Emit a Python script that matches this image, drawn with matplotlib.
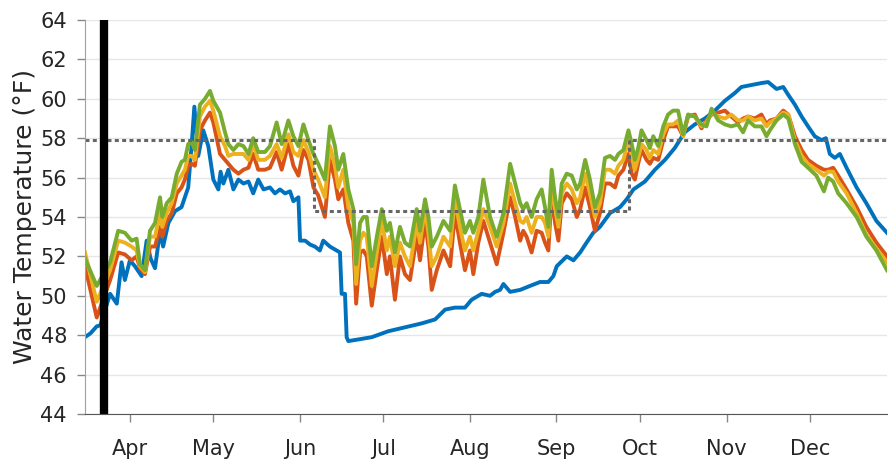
import matplotlib
matplotlib.use('Agg')
import matplotlib.pyplot as plt

# day 0 = Mar 16
month_ticks = [16, 46, 77, 107, 138, 169, 199, 230, 260]
month_labels = ['Apr', 'May', 'Jun', 'Jul', 'Aug', 'Sep', 'Oct', 'Nov', 'Dec']

days_blue = [0, 2.0, 4.2, 5.5, 9.0, 11.4, 13.1, 14.3, 16.1, 17.9,
             20.3, 22.1, 23.5, 25.1, 26.9, 28.0, 29.9, 32.3, 34.6, 35.8,
             37.0, 38.2, 39.2, 40.6, 42.4, 44.2, 46.0, 47.8, 48.6, 49.6,
             51.4, 53.2, 55.0, 56.8, 58.6, 60.3, 62.1, 64.0, 66.3, 68.1,
             69.9, 71.7, 73.5, 74.7, 76.5, 77.1, 78.9, 80.7, 82.4, 84.2,
             85.4, 87.8, 90.2, 91.4, 92.0, 93.2, 93.8, 94.4, 98.6, 102.8,
             108.7, 114.7, 120.7, 125.5, 129.1, 132.6, 136.2, 138.6, 142.2, 145.2,
             147.0, 148.8, 150.0, 152.4, 156.0, 159.5, 163.1, 166.1, 167.9, 169.1,
             172.7, 175.1, 177.5, 179.8, 182.2, 184.6, 188.2, 191.8, 194.2, 196.6,
             200.7, 204.3, 207.9, 211.4, 215.0, 218.6, 222.2, 225.8, 229.4, 233.0,
             235.3, 238.9, 242.5, 244.9, 247.9, 250.3, 252.1, 254.5, 256.9, 259.2,
             261.6, 264.0, 265.6, 267.0, 268.8, 270.6, 273.0, 276.6, 280.1, 283.7, 287.5]
temp_blue = [47.9, 48.1, 48.45, 48.5, 50.1, 49.6, 51.7, 50.8, 51.8, 51.5,
             51.0, 52.8, 51.9, 51.4, 53.3, 52.5, 53.7, 54.3, 54.5, 55.0,
             55.5, 57.6, 59.6, 57.1, 58.4, 57.6, 55.9, 55.4, 56.3, 55.7,
             56.4, 55.4, 55.9, 55.7, 55.8, 55.2, 55.9, 55.4, 55.5, 55.2,
             55.4, 55.2, 55.3, 54.8, 55.0, 52.8, 52.8, 52.6, 52.5, 52.3,
             52.8, 52.5, 52.3, 52.2, 50.1, 50.1, 47.9, 47.7, 47.8, 47.9,
             48.2, 48.4, 48.6, 48.8, 49.3, 49.4, 49.4, 49.8, 50.1, 50.0,
             50.2, 50.3, 50.6, 50.2, 50.3, 50.5, 50.7, 50.7, 51.0, 51.5,
             52.0, 51.8, 52.2, 52.7, 53.2, 53.5, 54.2, 54.5, 54.9, 55.4,
             55.8, 56.4, 56.9, 57.5, 58.3, 58.7, 59.0, 59.4, 59.9, 60.3,
             60.6, 60.7, 60.8, 60.85, 60.5, 60.6, 60.2, 59.7, 59.1, 58.6,
             58.1, 57.9, 58.0, 57.2, 57.0, 57.2, 56.5, 55.5, 54.7, 53.8, 53.2]

days_sites = [0, 4.2, 9.0, 11.9, 14.3, 16.7, 18.5, 19.7, 21.5, 23.3, 25.1, 26.9, 27.7,
              29.3, 31.1, 32.9, 34.6, 35.8, 37.0, 38.2, 39.4, 41.2, 43.0, 44.8, 46.0,
              48.4, 50.2, 51.4, 53.2, 55.0, 56.8, 58.6, 60.3, 62.1, 64.5, 66.3, 68.7, 70.5,
              72.9, 74.7, 76.5, 78.3, 80.1, 81.9, 83.6, 86.0, 87.8, 89.6, 90.8, 92.6, 94.4, 96.2,
              97.2, 98.6, 99.8, 101.0, 102.8, 104.6, 106.4, 108.2, 109.3, 111.1, 112.9, 114.7,
              116.5, 118.9, 120.1, 121.9, 123.1, 124.3, 126.1, 128.5, 130.9, 132.6, 134.4,
              136.2, 138.0, 139.2, 141.0, 142.8,
              145.2, 147.6, 150.0, 152.4, 154.2, 156.0, 157.1, 158.3, 160.1, 161.9, 163.7,
              164.9, 166.1, 167.3, 168.5, 169.7, 170.9, 172.7, 174.5, 176.3, 177.5, 179.3,
              181.0, 182.8, 184.6, 186.4, 188.2, 190.0, 191.2, 193.0, 194.8, 196.0,
              197.1, 198.3, 199.5, 201.3, 202.5, 203.7, 205.5, 207.3, 209.0, 210.8, 212.6,
              214.4, 216.2, 218.6, 221.0, 222.8, 224.6, 227.0, 229.4, 231.7, 234.1, 235.9,
              237.7, 240.1, 242.5, 244.3,
              245.5, 247.9, 250.3, 252.1, 254.5, 256.9, 259.2, 262.2, 264.9, 266.4, 268.2,
              270.0, 273.0, 276.6, 280.1, 283.7, 287.5]

temp_red = [51.5, 48.9, 50.8, 52.2, 52.1, 51.8, 52.0, 51.4, 51.1, 52.5, 52.5, 53.5, 53.0,
            53.8, 54.2, 55.2, 55.5, 55.9, 56.6, 56.7, 56.6, 58.4, 58.9, 59.3, 58.8,
            57.2, 56.9, 56.7, 56.4, 56.2, 56.4, 56.5, 57.2, 56.4, 56.4, 56.5, 57.3, 56.4,
            57.7, 56.6, 56.1, 57.4, 56.9, 55.5, 55.1, 54.0, 56.9, 55.9, 54.9, 55.4, 53.7, 52.8,
            49.6, 52.2, 52.3, 52.0, 49.5, 51.3, 53.0, 51.1, 52.0, 49.8, 52.0, 51.1,
            50.8, 53.0, 51.8, 53.8, 52.5, 50.3, 51.3, 52.3, 51.5, 54.2, 52.7,
            51.3, 52.3, 51.1, 52.7, 53.8,
            52.7, 51.6, 53.2, 55.0, 54.0, 52.8, 53.3, 53.0, 52.2, 53.3, 53.2,
            52.7, 52.3, 55.2, 53.7, 52.8, 54.7, 55.2, 54.9, 54.0, 54.4, 55.5,
            54.5, 53.3, 54.2, 55.7, 55.7, 55.5, 56.1, 56.4, 57.2, 56.2,
            55.9, 56.7, 57.4, 56.9, 56.7, 57.0, 56.9, 57.9, 58.6, 58.6, 58.6,
            58.1, 59.1, 59.2, 58.5, 58.9, 59.2, 59.3, 59.4, 59.1, 58.8, 59.0,
            59.1, 59.0, 59.2, 58.7,
            58.9, 59.0, 59.4, 59.2, 58.1, 57.4, 56.9, 56.6, 56.4, 56.4, 56.5,
            56.1, 55.4, 54.5, 53.5, 52.7, 52.0]

temp_yellow = [52.2, 49.7, 51.3, 52.8, 52.7, 52.5, 52.3, 51.5, 51.2, 53.0, 53.0, 54.2, 53.5,
               54.2, 54.7, 55.7, 56.1, 56.4, 57.1, 57.1, 56.9, 59.1, 59.6, 59.9, 59.4,
               58.1, 57.6, 57.1, 57.2, 57.2, 57.2, 56.9, 57.7, 56.9, 56.9, 57.1, 57.7, 57.0,
               58.2, 57.3, 57.1, 57.9, 57.3, 56.4, 55.9, 55.0, 57.6, 56.6, 55.5, 56.4, 54.5, 53.7,
               50.6, 52.8, 53.2, 53.0, 50.5, 52.2, 53.8, 52.3, 53.0, 51.5, 52.7, 52.0,
               51.5, 53.7, 52.7, 54.4, 53.2, 51.5, 52.0, 53.0, 52.5, 54.9, 53.5,
               52.3, 53.0, 52.3, 53.3, 54.4,
               53.5, 52.5, 53.7, 55.7, 54.7, 53.8, 53.7, 54.0, 53.2, 54.0, 54.0,
               53.7, 53.0, 55.7, 54.4, 53.5, 55.2, 55.7, 55.4, 54.7, 55.0, 56.2,
               55.2, 54.0, 54.7, 56.4, 56.4, 56.2, 56.6, 56.9, 57.9, 57.1,
               56.4, 57.0, 57.7, 57.4, 57.0, 57.4, 57.2, 58.2, 58.7, 58.7, 58.9,
               58.1, 59.2, 59.1, 58.6, 58.8, 59.3, 59.1, 59.0, 59.2, 58.9, 58.9,
               59.1, 58.9, 59.0, 58.6,
               58.8, 59.0, 59.3, 59.2, 57.9, 57.1, 56.7, 56.4, 56.1, 56.3, 56.3,
               55.8, 55.2, 54.2, 53.1, 52.4, 51.7]

temp_green = [51.9, 50.5, 51.7, 53.3, 53.2, 52.8, 52.9, 51.6, 51.3, 53.3, 53.7, 55.0, 54.0,
              54.7, 55.0, 56.2, 56.8, 56.9, 57.7, 57.8, 57.4, 59.7, 60.0, 60.4, 59.9,
              59.3, 58.3, 57.7, 57.4, 57.7, 57.6, 57.2, 58.0, 57.3, 57.3, 57.6, 58.8, 57.7,
              58.9, 58.1, 57.6, 58.7, 57.9, 57.2, 56.7, 55.9, 58.6, 57.6, 56.4, 57.2, 55.4, 54.4,
              51.6, 53.7, 54.0, 54.0, 51.5, 53.0, 54.4, 53.3, 53.7, 52.2, 53.5, 52.7,
              52.5, 54.4, 53.3, 54.9, 54.0, 52.5, 53.0, 53.8, 53.3, 55.6, 54.4,
              53.2, 53.8, 53.2, 54.0, 55.9,
              54.0, 53.0, 54.2, 56.7, 55.7, 54.7, 54.4, 54.7, 54.0, 54.9, 55.4,
              54.5, 53.5, 56.4, 55.0, 54.0, 55.7, 56.2, 56.1, 55.4, 55.7, 56.9,
              55.9, 54.5, 55.2, 57.0, 57.1, 56.9, 57.2, 57.4, 58.4, 57.7,
              56.9, 57.5, 58.4, 57.9, 57.5, 58.1, 57.6, 58.6, 59.2, 59.4, 59.4,
              58.2, 59.2, 59.1, 58.7, 58.6, 59.5, 58.9, 58.7, 58.6, 58.7, 58.3,
              58.9, 58.6, 58.6, 58.1,
              58.4, 58.9, 59.2, 59.0, 57.7, 56.8, 56.5, 56.1, 55.3, 56.0, 55.8,
              55.2, 54.7, 54.0, 53.0, 52.3, 51.3]

# criterion steps (deg F)
thresh_days = [0, 82, 195, 287.5]
thresh_temp = [57.9, 54.3, 57.9, 57.9]

bar_day = 6.8

text_color = '#262626'
plt.rcParams['font.family'] = ['DejaVu Sans']

fig = plt.figure(figsize=(8.88, 4.61), dpi=100)
ax = fig.add_axes([85 / 888, 1 - 414 / 461, 802 / 888, 394 / 461])

lw = 2.8
ax.plot(days_blue, temp_blue, color='#0072BD', lw=lw)
ax.plot(days_sites, temp_red, color='#D95319', lw=lw)
ax.plot(days_sites, temp_yellow, color='#EDB120', lw=lw)
ax.plot(days_sites, temp_green, color='#77AC30', lw=lw)
ax.plot(thresh_days, thresh_temp, drawstyle='steps-post', color='#666666',
        lw=2.2, linestyle=(0, (1.3, 1.1)))
ax.axvline(bar_day, color='black', lw=6)

ax.set_xlim(0, 287.5)
ax.set_ylim(44, 64)
ax.set_yticks(range(44, 65, 2))
ax.set_xticks(month_ticks)
ax.set_xticklabels(month_labels)

ax.yaxis.grid(True, color='#e6e6e6', lw=1)
ax.set_axisbelow(True)

for s in ['top', 'right']:
    ax.spines[s].set_visible(False)
ax.spines['left'].set_color('#a0a0a0')
ax.spines['bottom'].set_color('#555555')

ax.tick_params(axis='y', direction='out', length=6, width=1, color='#888888',
               labelsize=15, labelcolor=text_color, pad=7)
ax.tick_params(axis='x', direction='out', length=6, width=1, color='#888888',
               labelsize=15, labelcolor=text_color, pad=12)

ax.set_ylabel('Water Temperature (°F)', fontsize=18, color=text_color)
ax.yaxis.set_label_coords(-0.06, 0.5)

plt.savefig('out.png', dpi=100)
